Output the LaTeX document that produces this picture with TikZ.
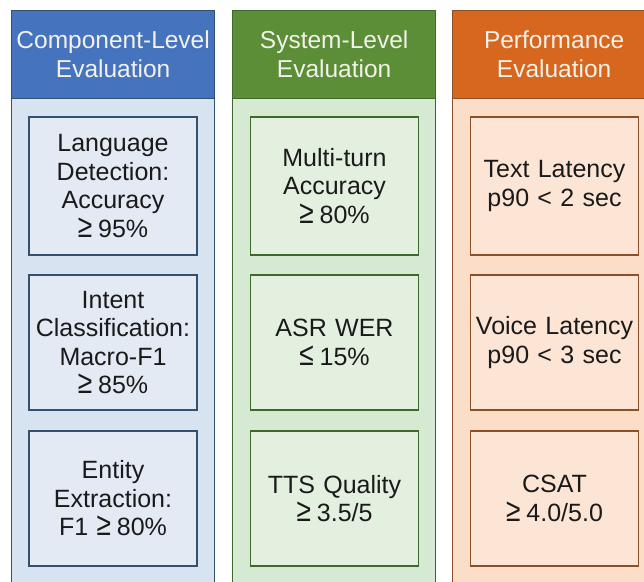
\documentclass[tikz,border=0pt]{standalone}
\usepackage{graphicx}
\usepackage{fontspec}
\setmainfont{Liberation Sans}
\definecolor{hdrtext}{HTML}{F2F2EA}
\definecolor{boxtext}{HTML}{1A1A1A}
% blue column
\definecolor{bluehead}{HTML}{4673BD}
\definecolor{bluepanel}{HTML}{D8E3F2}
\definecolor{bluebox}{HTML}{E3EAF4}
\definecolor{blueline}{HTML}{34506F}
% green column
\definecolor{greenhead}{HTML}{5B8E36}
\definecolor{greenpanel}{HTML}{D6E9D2}
\definecolor{greenbox}{HTML}{E3EFDF}
\definecolor{greenline}{HTML}{3D6A2C}
% orange column
\definecolor{orangehead}{HTML}{D7661F}
\definecolor{orangepanel}{HTML}{FCDDC8}
\definecolor{orangebox}{HTML}{FCE5D5}
\definecolor{orangeline}{HTML}{8C5028}
% tall relation signs followed by a word space
\newcommand{\atleast}{\smash{\scalebox{1.05}[1.3]{≥}}\kern6pt}
\newcommand{\atmost}{\smash{\scalebox{1.05}[1.3]{≤}}\kern6pt}
\begin{document}
\begin{tikzpicture}[x=1pt,y=-1pt,
  panel/.style={draw=#1line, fill=#1panel, line width=1.3pt,
    anchor=north west, minimum width=203pt, minimum height=600pt,
    inner sep=0pt},
  header/.style={draw=#1line, fill=#1head, line width=1.3pt,
    anchor=north west, minimum width=203pt, minimum height=88pt,
    inner sep=0pt, align=center, text=hdrtext,
    font=\fontsize{24.5}{29}\selectfont},
  metric/.style={draw=#1line, fill=#1box, line width=1.6pt,
    minimum width=168pt, text width=164pt, inner sep=0pt,
    align=center, text=boxtext,
    font=\fontsize{25}{28.5}\selectfont}]
\useasboundingbox (0,0) rectangle (644,581);
\fill[white] (0,0) rectangle (644,581);
\clip (0,0) rectangle (644,581);

% Component-level column
\node[panel=blue] (pa) at (11,10) {};
\node[header=blue] (ha) at (11,10) {Component-Level\\Evaluation};
\node[metric=blue, minimum height=138pt] (a1) at (113,186)
  {Language\\Detection:\\Accuracy\\\atleast 95\%};
\node[metric=blue, minimum height=135pt] (a2) at (113,342.5)
  {Intent\\Classification:\\Macro-F1\\\atleast 85\%};
\node[metric=blue, minimum height=135pt] (a3) at (113,498.5)
  {Entity\\Extraction:\\F1 \atleast 80\%};

% System-level column
\node[panel=green] (pb) at (232,10) {};
\node[header=green] (hb) at (232,10) {System-Level\\Evaluation};
\node[metric=green, minimum height=138pt] (b1) at (334.5,186)
  {Multi-turn\\Accuracy\\\atleast 80\%};
\node[metric=green, minimum height=135pt] (b2) at (334.5,342.5)
  {ASR WER\\\atmost 15\%};
\node[metric=green, minimum height=135pt] (b3) at (334.5,498.5)
  {TTS Quality\\\atleast 3.5/5};

% Performance column
\node[panel=orange] (pc) at (452,10) {};
\node[header=orange] (hc) at (452,10) {Performance\\Evaluation};
\node[metric=orange, minimum height=138pt] (c1) at (554.5,186)
  {Text Latency\\p90 < 2 sec};
\node[metric=orange, minimum height=135pt] (c2) at (554.5,342.5)
  {Voice Latency\\p90 < 3 sec};
\node[metric=orange, minimum height=135pt] (c3) at (554.5,498.5)
  {CSAT\\\atleast 4.0/5.0};
\end{tikzpicture}
\end{document}
